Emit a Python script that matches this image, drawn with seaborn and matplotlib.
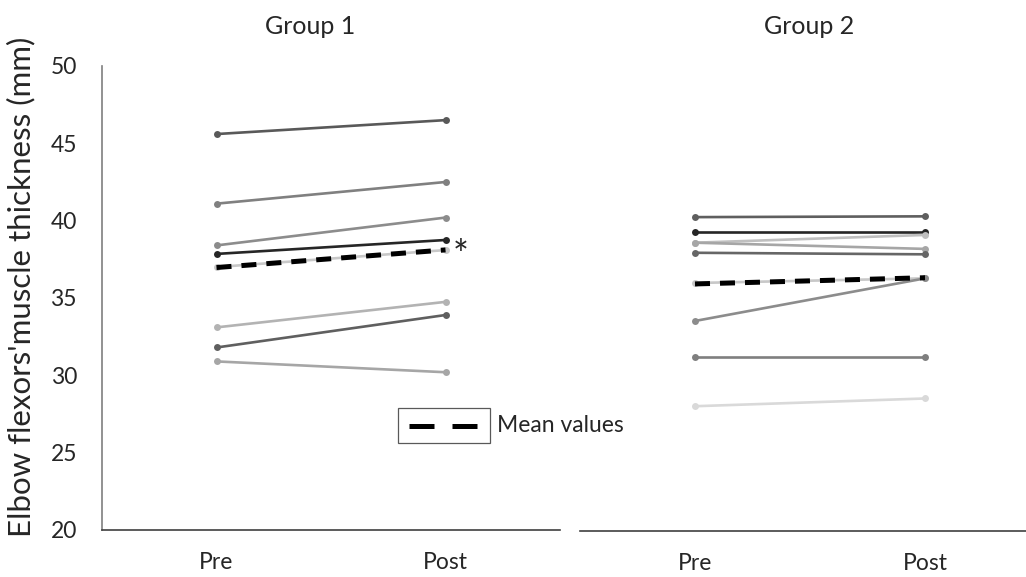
import pandas as pd
import numpy as np
import matplotlib.pyplot as plt
from matplotlib.patches import Rectangle
from matplotlib.lines import Line2D
import seaborn as sns

sns.set_style('white')
plt.rcParams['font.family'] = ['Lato', 'DejaVu Sans']

times = ['Pre', 'Post']

# Group 1 - one line per subject
g1_pre = [45.6, 41.1, 38.4, 37.85, 37.0, 33.1, 31.8, 30.9]
g1_post = [46.5, 42.5, 40.2, 38.75, 38.1, 34.75, 33.9, 30.2]
g1_colors = ['#595959', '#808080', '#8c8c8c', '#262626', '#c8c8c8', '#b3b3b3', '#5f5f5f', '#a6a6a6']
g1_mean = [36.97, 38.11]

# Group 2
g2_pre = [40.25, 39.3, 38.6, 38.6, 37.95, 36.0, 33.55, 31.2, 28.05]
g2_post = [40.3, 39.3, 39.1, 38.2, 37.85, 36.3, 36.3, 31.2, 28.55]
g2_colors = ['#5f5f5f', '#262626', '#bfbfbf', '#a6a6a6', '#666666', '#c8c8c8', '#8c8c8c', '#7f7f7f', '#d9d9d9']
g2_mean = [35.94, 36.34]


def long_df(pre, post):
    rows = []
    for i, (a, b) in enumerate(zip(pre, post)):
        rows.append({'subject': i, 'time': 'Pre', 'value': a})
        rows.append({'subject': i, 'time': 'Post', 'value': b})
    return pd.DataFrame(rows)


fig = plt.figure(figsize=(10.26, 5.77), dpi=100)
ax1 = fig.add_axes([102 / 1026, 1 - 530 / 577, 458 / 1026, 464 / 577])
ax2 = fig.add_axes([580 / 1026, 1 - 531 / 577, 460 / 1026, 465 / 577])

for ax, pre, post, cols, mean, title, tx in [
        (ax1, g1_pre, g1_post, g1_colors, g1_mean, 'Group 1', 0.455),
        (ax2, g2_pre, g2_post, g2_colors, g2_mean, 'Group 2', 0.498)]:
    ax.set_facecolor('none')
    df = long_df(pre, post)
    sns.lineplot(data=df, x='time', y='value', hue='subject', units='subject',
                 estimator=None, palette=dict(enumerate(cols)), marker='o',
                 markersize=5, markeredgewidth=0, linewidth=1.9, sort=False,
                 legend=False, ax=ax)
    sns.lineplot(x=times, y=mean, color='black', linewidth=3.6, sort=False,
                 linestyle=(0, (3.0, 2.0)), ax=ax)
    ax.set_xlim(-0.5, 1.5)
    ax.set_ylim(20, 50)
    ax.set_xlabel('')
    ax.set_ylabel('')
    ax.set_title(title, x=tx, pad=23, fontsize=18)
    ax.tick_params(axis='x', length=0, labelsize=16.5, pad=16)
    ax.tick_params(axis='y', length=0, labelsize=16.5, pad=18)
    for s in ['top', 'right']:
        ax.spines[s].set_visible(False)
    ax.spines['bottom'].set_color('#404040')
    ax.spines['bottom'].set_linewidth(1.2)

ax1.spines['left'].set_color('#7f7f7f')
ax1.spines['left'].set_linewidth(1.2)
ax1.set_yticks([20, 25, 30, 35, 40, 45, 50])
ax1.set_ylabel("Elbow flexors'muscle thickness (mm)", fontsize=22.5)
ax1.yaxis.set_label_coords(-0.145, 0.525)
ax2.spines['left'].set_visible(False)
ax2.set_yticks([])

# significance marker next to Group 1 post mean
ax1.annotate('*', xy=(1, g1_mean[1]), xytext=(5, -5), textcoords='offset points',
             fontsize=27, ha='left', va='center')

# legend box (handle framed, text outside)
x0, x1 = (398 - 102) / 458, (490 - 102) / 458
y0, y1 = (530 - 443) / 464, (530 - 408) / 464
ax1.add_patch(Rectangle((x0, y0), x1 - x0, y1 - y0, transform=ax1.transAxes,
                        fill=False, edgecolor='#595959', linewidth=0.9, clip_on=False))
ym = (y0 + y1) / 2
ax1.add_line(Line2D([(409 - 102) / 458, (477 - 102) / 458], [ym, ym], transform=ax1.transAxes,
                    color='black', linewidth=3.6, linestyle=(0, (5.0, 3.6))))
ax1.text((497 - 102) / 458, ym, 'Mean values', transform=ax1.transAxes,
         fontsize=16.5, va='center', ha='left', clip_on=False)

fig.savefig('out.png', dpi=100)
